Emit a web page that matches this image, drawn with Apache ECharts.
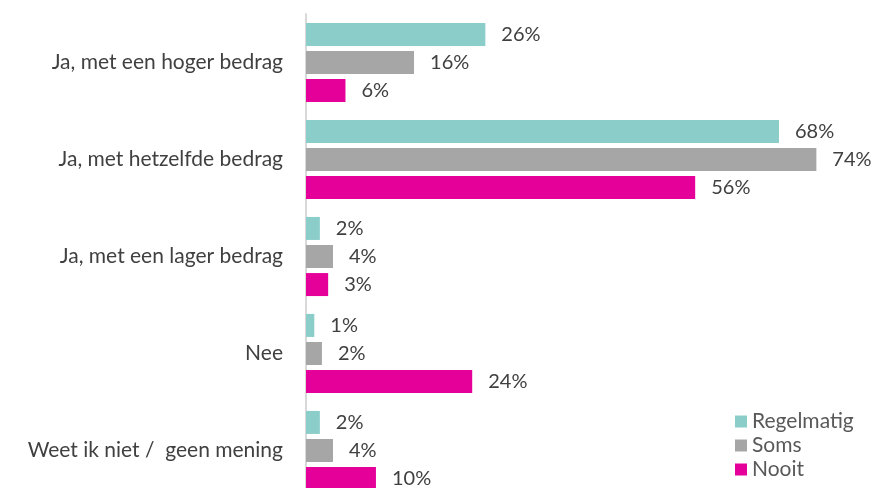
<!DOCTYPE html>
<html>
<head>
<meta charset="utf-8">
<script src="https://cdn.jsdelivr.net/npm/echarts@6/dist/echarts.min.js"></script>
<style>
  html, body { margin: 0; padding: 0; background: #fff; }
  #chart { width: 875px; height: 488px; }
</style>
</head>
<body>
<div id="chart"></div>
<script>
// antwoordcategorieen (boven naar beneden)
const categories = [
    'Ja, met een hoger bedrag',
    'Ja, met hetzelfde bedrag',
    'Ja, met een lager bedrag',
    'Nee',
    'Weet ik niet /  geen mening'
];
const seriesNames = ['Regelmatig', 'Soms', 'Nooit'];
const regelmatig = [25.9, 68.3, 2.0, 1.2, 2.0];
const soms = [15.6, 73.7, 3.9, 2.3, 3.9];
const nooit = [5.7, 56.2, 3.2, 24.0, 10.1];
const colors = ['#8BCDC9', '#A6A6A6', '#E6009A'];

const chart = echarts.init(document.getElementById('chart'));

const font = 'Lato, sans-serif';
const makeSeries = (name, data) => ({
    name: name,
    type: 'bar',
    barWidth: 23,
    barGap: '22%',
    data: data,
    label: {
        show: true,
        position: 'right',
        distance: 16,
        fontFamily: font,
        fontSize: 20,
        color: '#404040',
        formatter: p => Math.round(p.value) + '%'
    }
});

chart.setOption({
    color: colors,
    animation: false,
    textStyle: { fontFamily: font },
    legend: {
        data: seriesNames,
        orient: 'vertical',
        left: 730,
        top: 406,
        itemWidth: 12,
        itemHeight: 12,
        itemGap: 3,
        icon: 'rect',
        textStyle: { fontSize: 21, color: '#595959', fontFamily: font }
    },
    // grid loopt onder de rand door, zoals in het origineel
    grid: {
        left: 306,
        top: 14,
        width: 554,
        height: 485,
        outerBoundsMode: 'none'
    },
    xAxis: {
        type: 'value',
        min: 0,
        max: 80,
        show: false
    },
    yAxis: {
        type: 'category',
        data: categories,
        inverse: true,
        axisTick: { show: false },
        axisLine: { lineStyle: { color: '#D9D9D9', width: 2 } },
        axisLabel: {
            margin: 23,
            fontSize: 21,
            color: '#404040',
            fontFamily: font
        }
    },
    series: [
        makeSeries(seriesNames[0], regelmatig),
        makeSeries(seriesNames[1], soms),
        makeSeries(seriesNames[2], nooit)
    ]
});
</script>
</body>
</html>
